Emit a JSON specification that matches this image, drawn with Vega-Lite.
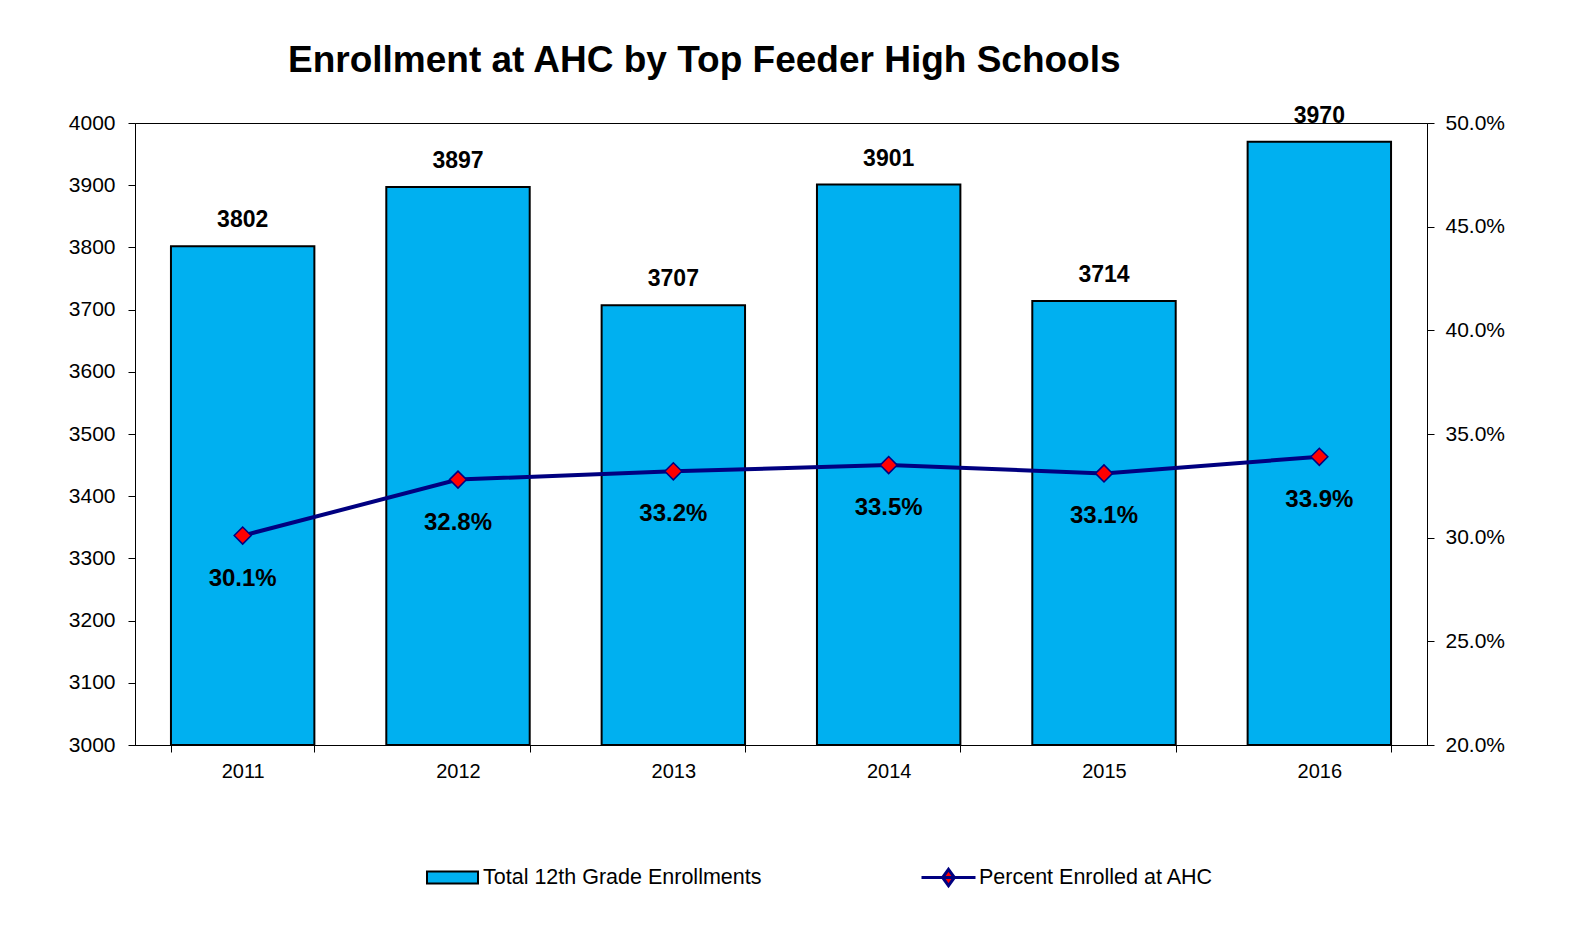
{
  "$schema": "https://vega.github.io/schema/vega-lite/v6.json",
  "width": 1292,
  "height": 622,
  "autosize": {"type": "none"},
  "padding": {"left": 135, "top": 123, "right": 168, "bottom": 206},
  "background": "white",
  "config": {
    "font": "Liberation Sans",
    "view": {"stroke": "#000000", "strokeWidth": 1},
    "axis": {
      "labelFont": "Liberation Sans",
      "labelFontSize": 21,
      "labelColor": "#000000",
      "domainColor": "#000000",
      "tickColor": "#000000",
      "tickSize": 7,
      "grid": false,
      "title": null
    }
  },
  "title": {
    "text": "Enrollment at AHC by Top Feeder High Schools",
    "anchor": "start",
    "frame": "group",
    "dx": 153,
    "offset": 25,
    "fontSize": 37,
    "fontWeight": "bold",
    "font": "Liberation Sans",
    "color": "#000000"
  },
  "data": {
    "values": [
      {"year": "2011", "total": 3802, "pct": 0.301},
      {"year": "2012", "total": 3897, "pct": 0.328},
      {"year": "2013", "total": 3707, "pct": 0.332},
      {"year": "2014", "total": 3901, "pct": 0.335},
      {"year": "2015", "total": 3714, "pct": 0.331},
      {"year": "2016", "total": 3970, "pct": 0.339}
    ]
  },
  "encoding": {
    "x": {
      "field": "year",
      "type": "nominal",
      "scale": {"paddingInner": 0.334, "paddingOuter": 0.167},
      "axis": {"labelAngle": 0, "tickBand": "extent", "labelPadding": 9, "labelFontSize": 20}
    }
  },
  "layer": [
    {
      "layer": [
        {
          "mark": {"type": "bar", "stroke": "#000000", "strokeWidth": 2},
          "encoding": {
            "y": {
              "field": "total",
              "type": "quantitative",
              "scale": {"domain": [3000, 4000], "zero": false, "nice": false},
              "axis": {"values": [3000, 3100, 3200, 3300, 3400, 3500, 3600, 3700, 3800, 3900, 4000], "labelPadding": 13, "format": "d"}
            },
            "y2": {"datum": 3000},
            "fill": {
              "datum": "Total 12th Grade Enrollments",
              "type": "nominal",
              "scale": {"range": ["#00B0F0"]},
              "legend": {
                "title": null,
                "orient": "none",
                "legendX": 291,
                "legendY": 728,
                "padding": 0,
                "symbolType": "M-1,-0.235H1V0.235H-1Z",
                "symbolSize": 2601,
                "symbolStrokeColor": "#000000",
                "symbolStrokeWidth": 2,
                "symbolFillColor": "#00B0F0",
                "labelFontSize": 21.5,
                "labelFont": "Liberation Sans",
                "labelColor": "#000000",
                "labelOffset": 4,
                "labelLimit": 500
              }
            }
          }
        },
        {
          "mark": {"type": "text", "fontSize": 23, "fontWeight": "bold", "baseline": "alphabetic", "dy": -19, "color": "#000000"},
          "encoding": {
            "y": {"field": "total", "type": "quantitative"},
            "text": {"field": "total", "type": "quantitative", "format": "d"}
          }
        }
      ]
    },
    {
      "layer": [
        {
          "mark": {"type": "line", "strokeWidth": 4},
          "encoding": {
            "y": {
              "field": "pct",
              "type": "quantitative",
              "scale": {"domain": [0.2, 0.5], "zero": false, "nice": false},
              "axis": {"orient": "right", "values": [0.2, 0.25, 0.3, 0.35, 0.4, 0.45, 0.5], "format": ".1%", "labelPadding": 11}
            },
            "stroke": {
              "datum": "Percent Enrolled at AHC",
              "type": "nominal",
              "scale": {"range": ["#000080"]},
              "legend": {
                "title": null,
                "orient": "none",
                "legendX": 785,
                "legendY": 726,
                "padding": 0,
                "symbolType": "M-1,0H1M0,-0.3L0.22,0L0,0.3L-0.22,0Z",
                "symbolSize": 2916,
                "symbolStrokeColor": "#000080",
                "symbolStrokeWidth": 3,
                "symbolFillColor": "#FF0000",
                "labelFontSize": 21.5,
                "labelFont": "Liberation Sans",
                "labelColor": "#000000",
                "labelOffset": 2,
                "labelLimit": 500
              }
            }
          }
        },
        {
          "mark": {"type": "point", "shape": "diamond", "size": 290, "filled": true, "fill": "#FF0000", "stroke": "#000080", "strokeWidth": 1.5, "opacity": 1},
          "encoding": {
            "y": {"field": "pct", "type": "quantitative"}
          }
        },
        {
          "mark": {"type": "text", "fontSize": 24, "fontWeight": "bold", "baseline": "alphabetic", "dy": 50, "color": "#000000"},
          "encoding": {
            "y": {"field": "pct", "type": "quantitative"},
            "text": {"field": "pct", "type": "quantitative", "format": ".1%"}
          }
        }
      ]
    }
  ],
  "resolve": {"scale": {"y": "independent", "fill": "independent", "stroke": "independent"}}
}
